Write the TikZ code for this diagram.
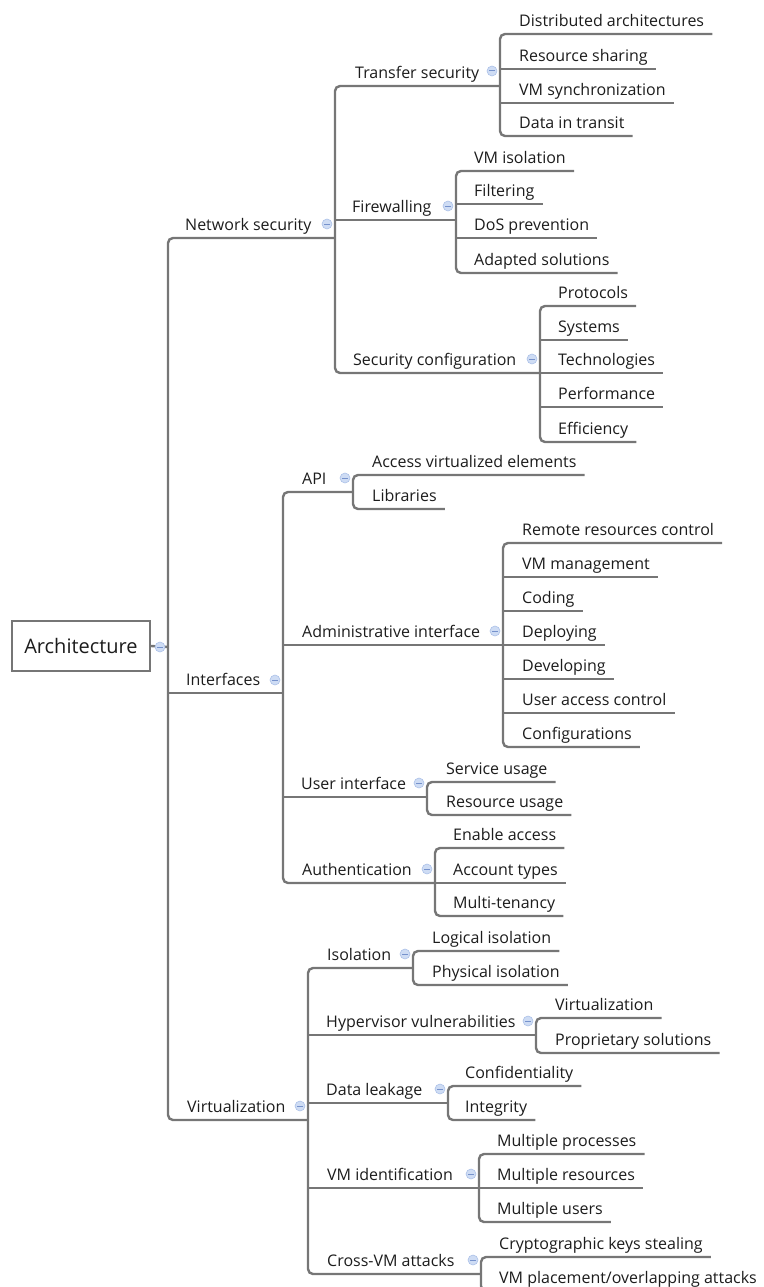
\documentclass[tikz,border=0pt]{standalone}
\usepackage{fontspec}
\setmainfont{Open Sans}
\usetikzlibrary{positioning,calc}
\definecolor{linegray}{RGB}{118,118,118}
\definecolor{inkgray}{RGB}{28,28,28}
\definecolor{foldfill}{RGB}{206,220,244}
\definecolor{foldedge}{RGB}{172,193,232}
\definecolor{folddash}{RGB}{118,146,204}
\tikzset{
  topic/.style={anchor=south west, inner sep=0pt, text height=12pt, text depth=7pt,
    text=inkgray, font=\fontsize{16}{18}\selectfont},
  branch/.style={draw=linegray, line width=2.4pt, rounded corners=5pt},
  fold/.style={circle, fill=foldfill, draw=foldedge, line width=0.6pt, inner sep=0pt, minimum size=10pt,
    path picture={\draw[folddash, line width=1pt]
      ([xshift=-2.6pt]path picture bounding box.center) -- ([xshift=2.6pt]path picture bounding box.center);}},
  rootbox/.style={draw=linegray, line width=2pt, fill=white, minimum width=138pt, minimum height=50pt,
    text=inkgray, font=\fontsize{20}{24}\selectfont}
}

\begin{document}
\begin{tikzpicture}[x=1pt, y=-1pt]
    \clip (0,0) rectangle (763,1287);

    % spine points
    \coordinate (root-s) at (168,647);
    \coordinate (network-s) at (335,238);
    \coordinate (transfer-s) at (500,86);
    \coordinate (firewall-s) at (456,220);
    \coordinate (secconf-s) at (540,373);
    \coordinate (interf-s) at (283,693);
    \coordinate (api-s) at (353,492);
    \coordinate (admin-s) at (503,645);
    \coordinate (uiface-s) at (427,797);
    \coordinate (auth-s) at (435,883);
    \coordinate (virt-s) at (308,1120);
    \coordinate (isol-s) at (413,968);
    \coordinate (hyper-s) at (536,1035);
    \coordinate (leak-s) at (448,1103);
    \coordinate (vmid-s) at (479,1188);
    \coordinate (xvm-s) at (481,1274);

    \node[rootbox] (arch) at (81,646) {Architecture};

    \node[topic] (network) at (185,238) {Network security};
    \node[topic] (interf) at (186,693) {Interfaces};
    \node[topic] (virt) at (187,1120) {Virtualization};

    \node[topic] (transfer) at (355,86) {Transfer security};
    \node[topic] (firewall) at (352,220) {Firewalling};
    \node[topic] (secconf) at (353,373) {Security configuration};

    \node[topic] (dist) at (519,34) {Distributed architectures};
    \node[topic] (share) at (519,69) {Resource sharing};
    \node[topic] (sync) at (519,103) {VM synchronization};
    \node[topic] (transit) at (519,136) {Data in transit};

    \node[topic] (vmiso) at (474,171) {VM isolation};
    \node[topic] (filter) at (474,204) {Filtering};
    \node[topic] (dos) at (474,238) {DoS prevention};
    \node[topic] (adapted) at (474,273) {Adapted solutions};

    \node[topic] (protocols) at (558,306) {Protocols};
    \node[topic] (systems) at (558,340) {Systems};
    \node[topic] (techno) at (558,373) {Technologies};
    \node[topic] (perform) at (558,407) {Performance};
    \node[topic] (effic) at (558,442) {Efficiency};

    \node[topic] (api) at (302,492) {API};
    \node[topic] (admin) at (302,645) {Administrative interface};
    \node[topic] (uiface) at (301,797) {User interface};
    \node[topic] (auth) at (302,883) {Authentication};

    \node[topic] (access) at (372,475) {Access virtualized elements};
    \node[topic] (libs) at (372,509) {Libraries};

    \node[topic] (remote) at (522,543) {Remote resources control};
    \node[topic] (vmman) at (522,577) {VM management};
    \node[topic] (coding) at (522,611) {Coding};
    \node[topic] (deploy) at (522,645) {Deploying};
    \node[topic] (develop) at (522,679) {Developing};
    \node[topic] (uac) at (522,713) {User access control};
    \node[topic] (configs) at (522,747) {Configurations};

    \node[topic] (service) at (446,782) {Service usage};
    \node[topic] (resusage) at (446,815) {Resource usage};

    \node[topic] (enable) at (453,848) {Enable access};
    \node[topic] (acctypes) at (453,883) {Account types};
    \node[topic] (tenancy) at (453,916) {Multi-tenancy};

    \node[topic] (isol) at (327,968) {Isolation};
    \node[topic] (hyper) at (326,1035) {Hypervisor vulnerabilities};
    \node[topic] (leak) at (326,1103) {Data leakage};
    \node[topic] (vmid) at (327,1188) {VM identification};
    \node[topic] (xvm) at (327,1274) {Cross-VM attacks};

    \node[topic] (logical) at (432,951) {Logical isolation};
    \node[topic] (physical) at (432,985) {Physical isolation};
    \node[topic] (virtz) at (555,1018) {Virtualization};
    \node[topic] (propr) at (555,1053) {Proprietary solutions};
    \node[topic] (confid) at (465,1086) {Confidentiality};
    \node[topic] (integ) at (465,1120) {Integrity};
    \node[topic] (mproc) at (497,1154) {Multiple processes};
    \node[topic] (mres) at (497,1188) {Multiple resources};
    \node[topic] (musers) at (497,1222) {Multiple users};
    \node[topic] (crypto) at (499,1257) {Cryptographic keys stealing};
    \node[topic] (placement) at (499,1291) {VM placement/overlapping attacks};

    % root
    \draw[branch] (arch.east) -- (root-s);
    \draw[branch] (network-s) -| (root-s) |- (virt-s);
    \draw[branch] (root-s |- interf-s) -- (interf-s);

    % network security
    \draw[branch] (transfer-s) -| (network-s) |- (secconf-s);
    \draw[branch] (network-s |- firewall-s) -- (firewall-s);
    \draw[branch] ([xshift=8pt]dist.south east) -| (transfer-s) |- ([xshift=8pt]transit.south east);
    \draw[branch] (transfer-s |- share.south) -- ([xshift=8pt]share.south east);
    \draw[branch] (transfer-s |- sync.south) -- ([xshift=8pt]sync.south east);
    \draw[branch] ([xshift=8pt]vmiso.south east) -| (firewall-s) |- ([xshift=8pt]adapted.south east);
    \draw[branch] (firewall-s |- filter.south) -- ([xshift=8pt]filter.south east);
    \draw[branch] (firewall-s |- dos.south) -- ([xshift=8pt]dos.south east);
    \draw[branch] ([xshift=8pt]protocols.south east) -| (secconf-s) |- ([xshift=8pt]effic.south east);
    \draw[branch] (secconf-s |- systems.south) -- ([xshift=8pt]systems.south east);
    \draw[branch] (secconf-s |- techno.south) -- ([xshift=8pt]techno.south east);
    \draw[branch] (secconf-s |- perform.south) -- ([xshift=8pt]perform.south east);

    % interfaces
    \draw[branch] (api-s) -| (interf-s) |- (auth-s);
    \draw[branch] (interf-s |- admin-s) -- (admin-s);
    \draw[branch] (interf-s |- uiface-s) -- (uiface-s);
    \draw[branch] ([xshift=8pt]access.south east) -| (api-s) |- ([xshift=8pt]libs.south east);
    \draw[branch] ([xshift=8pt]remote.south east) -| (admin-s) |- ([xshift=8pt]configs.south east);
    \draw[branch] (admin-s |- vmman.south) -- ([xshift=8pt]vmman.south east);
    \draw[branch] (admin-s |- coding.south) -- ([xshift=8pt]coding.south east);
    \draw[branch] (admin-s |- deploy.south) -- ([xshift=8pt]deploy.south east);
    \draw[branch] (admin-s |- develop.south) -- ([xshift=8pt]develop.south east);
    \draw[branch] (admin-s |- uac.south) -- ([xshift=8pt]uac.south east);
    \draw[branch] ([xshift=8pt]service.south east) -| (uiface-s) |- ([xshift=8pt]resusage.south east);
    \draw[branch] ([xshift=8pt]enable.south east) -| (auth-s) |- ([xshift=8pt]tenancy.south east);
    \draw[branch] (auth-s |- acctypes.south) -- ([xshift=8pt]acctypes.south east);

    % virtualization
    \draw[branch] (isol-s) -| (virt-s) |- (xvm-s);
    \draw[branch] (virt-s |- hyper-s) -- (hyper-s);
    \draw[branch] (virt-s |- leak-s) -- (leak-s);
    \draw[branch] (virt-s |- vmid-s) -- (vmid-s);
    \draw[branch] ([xshift=8pt]logical.south east) -| (isol-s) |- ([xshift=8pt]physical.south east);
    \draw[branch] ([xshift=8pt]virtz.south east) -| (hyper-s) |- ([xshift=8pt]propr.south east);
    \draw[branch] ([xshift=8pt]confid.south east) -| (leak-s) |- ([xshift=8pt]integ.south east);
    \draw[branch] ([xshift=8pt]mproc.south east) -| (vmid-s) |- ([xshift=8pt]musers.south east);
    \draw[branch] (vmid-s |- mres.south) -- ([xshift=8pt]mres.south east);
    \draw[branch] ([xshift=8pt]crypto.south east) -| (xvm-s) |- ([xshift=8pt]placement.south east);

    % fold buttons
    \node[fold] (arch-f) at (160,647) {};
    \node[fold] (network-f) at ([xshift=-8pt,yshift=14pt]network-s) {};
    \node[fold] (transfer-f) at ([xshift=-8pt,yshift=15pt]transfer-s) {};
    \node[fold] (firewall-f) at ([xshift=-8pt,yshift=14pt]firewall-s) {};
    \node[fold] (secconf-f) at ([xshift=-8pt,yshift=14pt]secconf-s) {};
    \node[fold] (interf-f) at ([xshift=-8pt,yshift=13pt]interf-s) {};
    \node[fold] (api-f) at ([xshift=-8pt,yshift=14pt]api-s) {};
    \node[fold] (admin-f) at ([xshift=-8pt,yshift=14pt]admin-s) {};
    \node[fold] (uiface-f) at ([xshift=-8pt,yshift=14pt]uiface-s) {};
    \node[fold] (auth-f) at ([xshift=-8pt,yshift=14pt]auth-s) {};
    \node[fold] (virt-f) at ([xshift=-8pt,yshift=14pt]virt-s) {};
    \node[fold] (isol-f) at ([xshift=-8pt,yshift=14pt]isol-s) {};
    \node[fold] (hyper-f) at ([xshift=-8pt,yshift=14pt]hyper-s) {};
    \node[fold] (leak-f) at ([xshift=-8pt,yshift=14pt]leak-s) {};
    \node[fold] (vmid-f) at ([xshift=-8pt,yshift=14pt]vmid-s) {};
    \node[fold] (xvm-f) at ([xshift=-8pt,yshift=14pt]xvm-s) {};
\end{tikzpicture}
\end{document}
